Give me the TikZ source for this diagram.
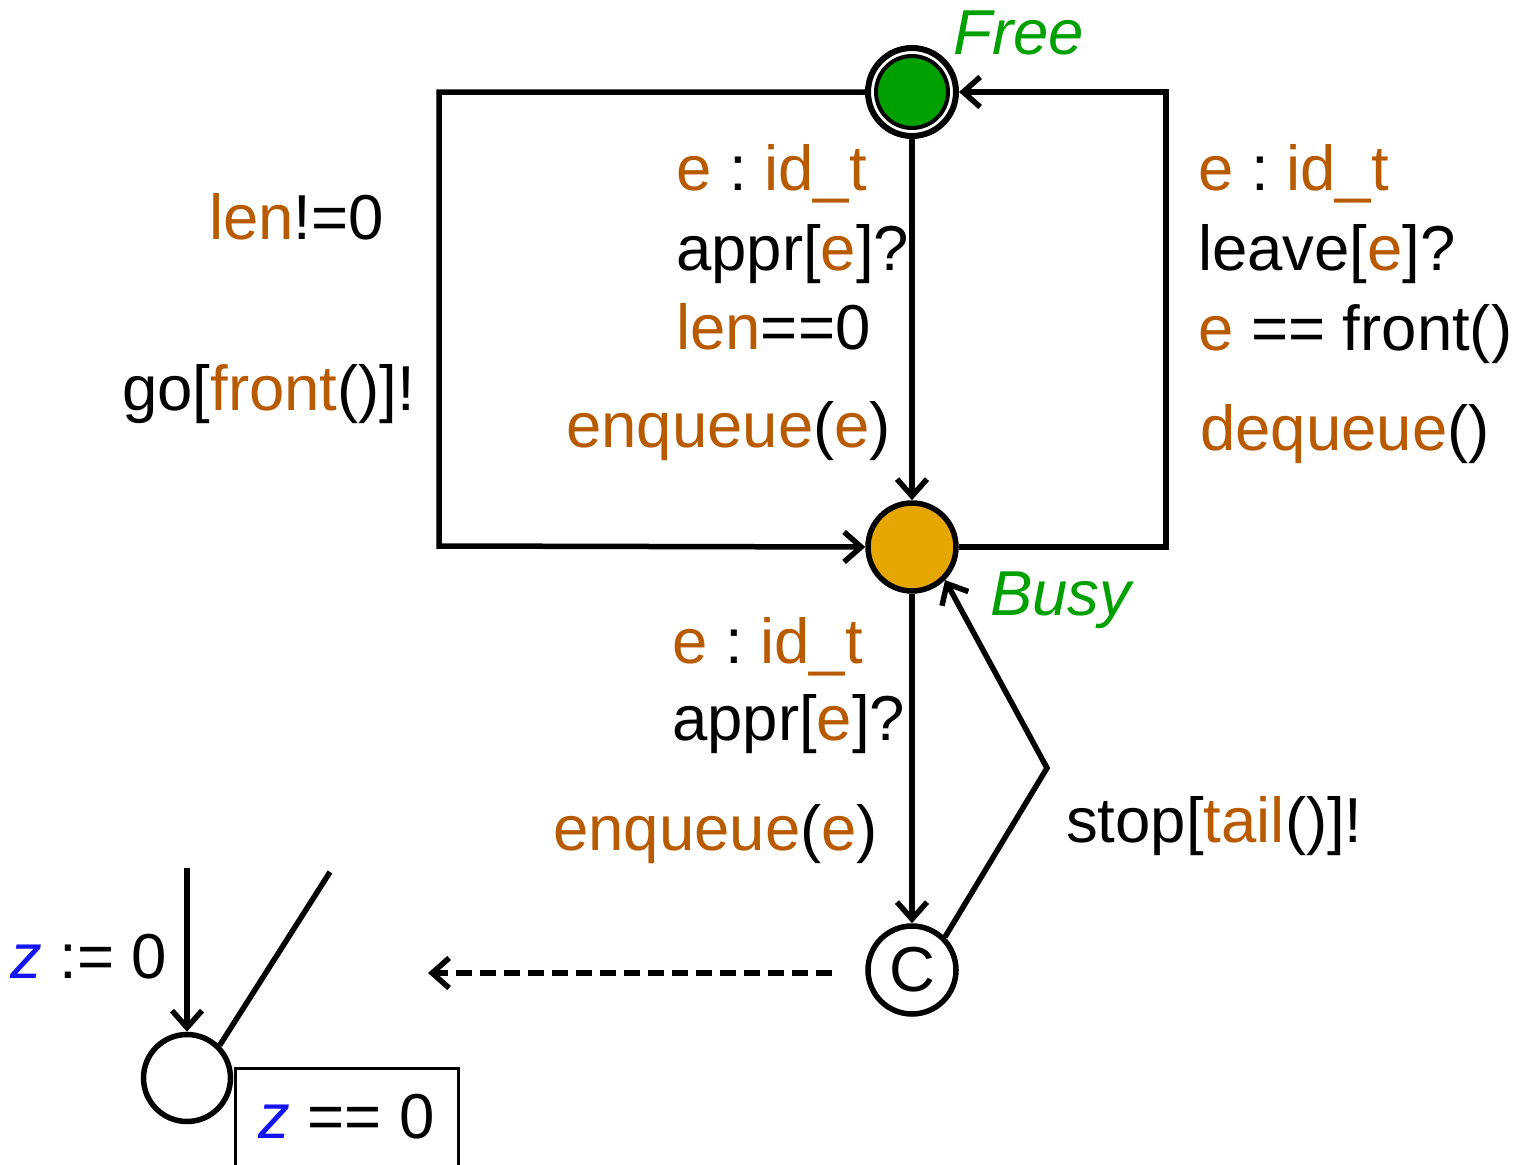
\documentclass[tikz,border=0pt]{standalone}
\usepackage{fontspec}
\setmainfont{Liberation Sans}
\usetikzlibrary{arrows.meta}
\definecolor{varcol}{RGB}{184,90,0}
\definecolor{loccol}{RGB}{0,160,0}
\definecolor{busycol}{RGB}{229,166,0}
\definecolor{clkcol}{RGB}{20,20,240}
\newcommand\ov[1]{\textcolor{varcol}{#1}}
\newcommand\clk{\textcolor{clkcol}{\textit{z}}}
\frenchspacing
\begin{document}
\begin{tikzpicture}[x=1pt,y=-1pt,
  state/.style={circle, draw, line width=5.5pt, minimum size=88pt, inner sep=0pt},
  edge/.style={line width=5.5pt, -{Straight Barb[length=17pt,width=30pt]}},
  plain/.style={line width=5.5pt},
  lbl/.style={inner sep=0pt, anchor=base west, font=\fontsize{63.5}{76}\selectfont},
  locname/.style={lbl, text=loccol, font=\fontsize{63.5}{76}\selectfont\itshape}]
\useasboundingbox (0,0) rectangle (1516,1165);

% locations (Free is the initial one: double ring)
\node[state, line width=6pt, minimum size=88pt] (free) at (912,92) {};
\draw[line width=4pt, fill=loccol] (free.center) circle[radius=36];
\node[state, fill=busycol] (busy) at (912,547) {};
\node[state, font=\fontsize{63.5}{76}\selectfont] (cnode) at (912,970) {C};
\node[state, minimum size=87pt] (tgt) at (187,1078) {};

% location names
\node[locname] (freename) at (953,54) {Free};
\node[locname] (busyname) at (990,615) {Busy};

% corner points of the loops
\coordinate (ltt) at (439,92);
\coordinate (ltb) at (439,546);
\coordinate (rtt) at (1166,92);
\coordinate (rtb) at (1166,547);
\coordinate (bend) at (1047,768);
\coordinate (dstart) at (832,973);
\coordinate (dend) at (428,973);
\coordinate (vin) at (187,868);
\coordinate (tail) at (330,872);

% transitions
\draw[edge] (free) -- (busy);
\draw[edge] (busy.east) -- (rtb) -- (rtt) -- (free.east);
\draw[edge] (free.west) -- (ltt) -- (ltb) -- (busy.west);
\draw[edge] (busy) -- (cnode);
\draw[edge] (cnode.45) -- (bend) -- (busy.-45);
\draw[edge, dash pattern=on 16pt off 8pt] (dstart) -- (dend);
\draw[edge] (vin) -- (tgt);
\draw[plain] (tgt.45) -- (tail);

% invariant box
\draw[line width=3pt] (235,1068) rectangle (458,1180);
\node[lbl] (inv) at (258,1138) {\clk{} == 0};
\node[lbl] (reset) at (10,978) {\clk{} := 0};

% Free -> Busy (down)
\node[lbl] (s1) at (676,190) {\ov{e} : \ov{id\_t}};
\node[lbl] (y1) at (676,270) {appr[\ov{e}]?};
\node[lbl] (g1) at (676,349) {\ov{len}==0};
\node[lbl] (u1) at (566,447) {\ov{enqueue}(\ov{e})};

% Free -> Busy (left loop)
\node[lbl] (g2) at (209,239) {\ov{len}!=0};
\node[lbl] (y2) at (122,410) {go[\ov{front}()]!};

% Busy -> Free (right loop)
\node[lbl] (s3) at (1198,190) {\ov{e} : \ov{id\_t}};
\node[lbl] (y3) at (1198,270) {leave[\ov{e}]?};
\node[lbl] (g3) at (1198,350) {\ov{e} == front()};
\node[lbl] (u3) at (1200,450) {\ov{dequeue}()};

% Busy -> C
\node[lbl] (s4) at (672,663) {\ov{e} : \ov{id\_t}};
\node[lbl] (y4) at (672,740) {appr[\ov{e}]?};
\node[lbl] (u4) at (553,850) {\ov{enqueue}(\ov{e})};

% C -> Busy
\node[lbl] (y5) at (1066,842) {stop[\ov{tail}()]!};
\end{tikzpicture}
\end{document}
